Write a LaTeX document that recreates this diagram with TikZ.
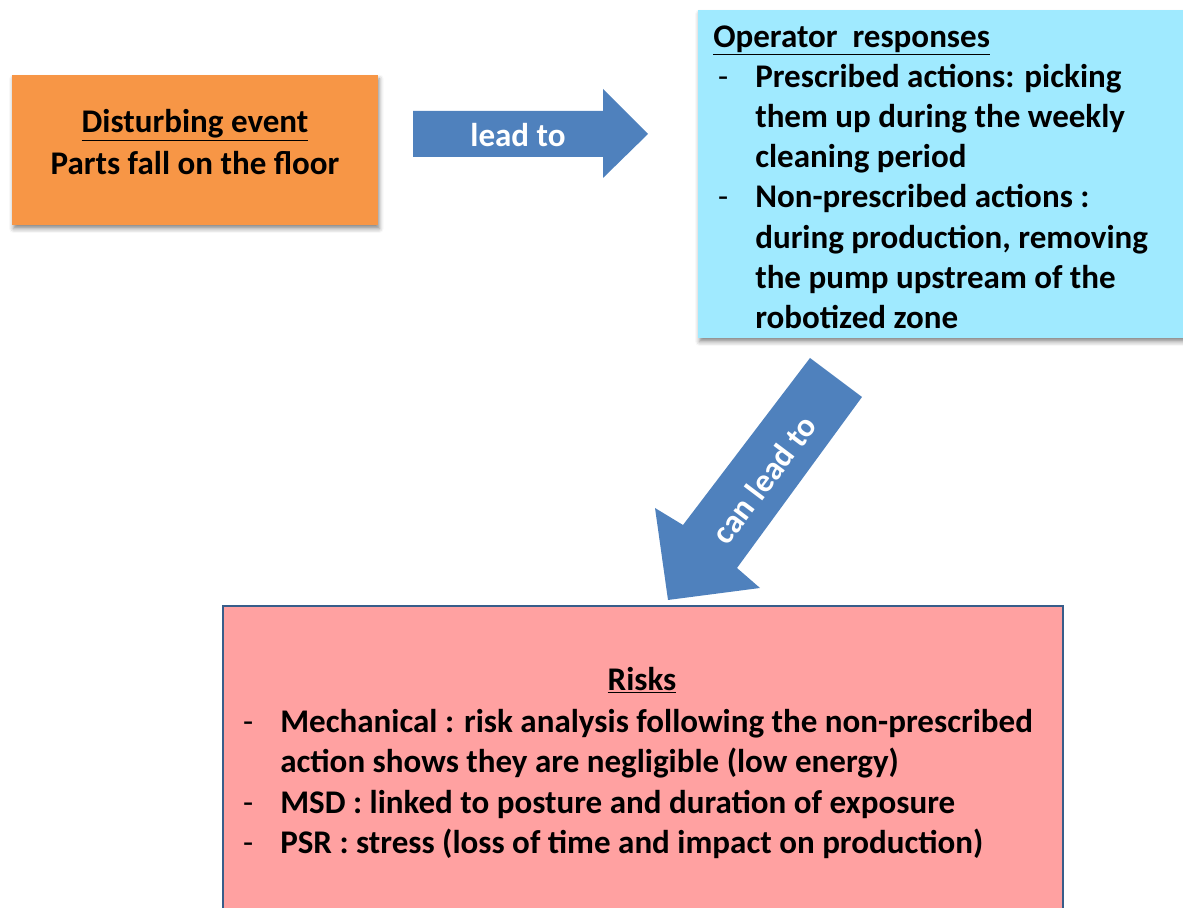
\documentclass[tikz,border=0pt]{standalone}
\usepackage{fontspec}
\setmainfont{Carlito}
\usetikzlibrary{shadows.blur}
\definecolor{eventorange}{RGB}{247,150,70}
\definecolor{arrowblue}{RGB}{79,129,189}
\definecolor{responsecyan}{RGB}{160,234,255}
\definecolor{riskpink}{RGB}{255,161,161}
\definecolor{riskborder}{RGB}{56,93,138}
\tikzset{
  box/.style={rectangle,inner sep=0pt,anchor=north west},
  softshadow/.style={blur shadow={shadow xshift=0.8pt,shadow yshift=-2.5pt,shadow blur radius=3pt,shadow opacity=45}},
  boxtext/.style={font=\fontsize{23.5}{28.6}\selectfont\bfseries,inner sep=0pt,align=left},
  arrowtext/.style={text=white,font=\fontsize{23.5}{28}\selectfont\bfseries,inner sep=0pt}
}
\newcommand{\dashitem}{\makebox[1.05cm][l]{\hspace{0.12cm}\mdseries-}}
\newcommand{\contline}{\hspace*{1.05cm}}

\begin{document}
\begin{tikzpicture}[x=1cm,y=1cm]
  \clip (0,0) rectangle (29.575,22.7);

  % the three boxes
  \node[box,fill=eventorange,softshadow,minimum width=9.15cm,minimum height=3.75cm] (event) at (0.3,20.825) {};
  \node[box,fill=responsecyan,softshadow,minimum width=13.5cm,minimum height=8.2cm] (responses) at (17.45,22.45) {};
  \node[box,fill=riskpink,draw=riskborder,line width=1.2pt,minimum width=21cm,minimum height=8.8cm] (risks) at (5.55,7.575) {};

  \node[boxtext,align=center,font=\fontsize{23.5}{29.3}\selectfont\bfseries] (eventtext) at (4.875,19.15)
    {\underline{Disturbing event}\\Parts fall on the floor};

  \node[boxtext,anchor=north west] (resptext) at (17.825,22.07)
    {\underline{Operator\ \ responses}\\
     \dashitem Prescribed actions: picking\\
     \contline them up during the weekly\\
     \contline cleaning period\\
     \dashitem Non-prescribed actions :\\
     \contline during production, removing\\
     \contline the pump upstream of the\\
     \contline robotized zone};

  \node[boxtext] (risktitle) at (16.05,5.7) {\underline{Risks}};
  \node[boxtext,anchor=north west] (risklist) at (5.95,4.97)
    {\dashitem Mechanical : risk analysis following the non-prescribed\\
     \contline action shows they are negligible (low energy)\\
     \dashitem MSD : linked to posture and duration of exposure\\
     \dashitem PSR : stress (loss of time and impact on production)};

  % block arrows
  \fill[arrowblue] (10.325,19.925) -- (15.075,19.925) -- (15.075,20.475) -- (16.2,19.35)
    -- (15.075,18.25) -- (15.075,18.775) -- (10.325,18.775) -- cycle;
  \node[arrowtext] (leadto) at (12.95,19.33) {lead to};

  \fill[arrowblue] (20.25,13.75) -- (21.55,12.775) -- (18.425,8.5) -- (19.0,8.0)
    -- (16.7,7.7) -- (16.375,10.0) -- (17.075,9.575) -- cycle;
  \node[arrowtext,rotate=53] (canleadto) at (19.1,10.72) {can lead to};
\end{tikzpicture}
\end{document}
